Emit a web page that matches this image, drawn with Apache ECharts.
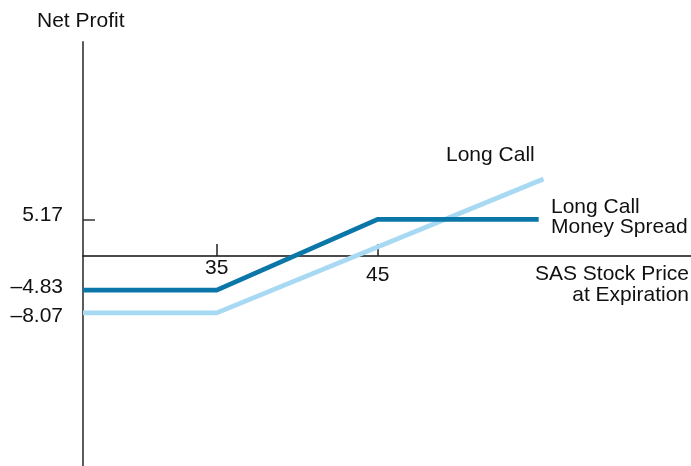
<!DOCTYPE html>
<html><head><meta charset="utf-8">
<script src="https://cdn.jsdelivr.net/npm/echarts@6/dist/echarts.min.js"></script>
<style>html,body{margin:0;padding:0;background:#fff}#c{width:691px;height:466px}</style>
</head><body><div id="c"></div>
<script>
// Data
const spreadPrices = [26.7, 35, 45, 55];
const spreadProfit = [-4.83, -4.83, 5.17, 5.17];
const callPrices = [26.7, 35, 55.3];
const callProfit = [-8.07, -8.07, 10.9];
const xTickValues = [35, 45];
const yTickValues = [5.17];
const yLabelValues = [5.17, -4.83, -8.07];

const FONT = '"Liberation Sans", Arial, Helvetica, sans-serif';
const FS = 21;
const chart = echarts.init(document.getElementById('c'), null, {renderer: 'canvas'});

function pairs(xs, ys) { return xs.map((x, i) => [x, ys[i]]); }

const yRich = {
  a: {fontSize: FS, fontFamily: FONT, color: '#111', padding: [0, 0, 8, 0]},
  b: {fontSize: FS, fontFamily: FONT, color: '#111', padding: [0, 0, 6, 0]},
  c: {fontSize: FS, fontFamily: FONT, color: '#111', padding: [6, 0, 0, 0]}
};

chart.setOption({
  animation: false,
  backgroundColor: '#fff',
  grid: {left: 83, right: 0, top: 42, bottom: 0, containLabel: false, outerBoundsMode: 'none'},
  xAxis: {
    type: 'value', min: 26.7, max: 64.46, interval: 1,
    splitLine: {show: false},
    axisLine: {onZero: true, lineStyle: {color: '#111', width: 1.5}},
    axisTick: {show: true, inside: true, length: 12, customValues: xTickValues, lineStyle: {color: '#222', width: 1.5}},
    axisLabel: {show: false}
  },
  yAxis: {
    type: 'value', min: -29.75, max: 30.3,
    splitLine: {show: false},
    axisLine: {show: true, onZero: false, lineStyle: {color: '#4a4a4a', width: 1.8}},
    axisTick: {show: true, inside: true, length: 12, customValues: yTickValues, lineStyle: {color: '#333', width: 1.5}},
    axisLabel: {
      customValues: yLabelValues, margin: 20,
      formatter: v => {
        const s = (v < 0 ? '\u2013' : '') + Math.abs(v).toFixed(2);
        const k = v > 0 ? 'a' : (v > -6 ? 'b' : 'c');
        return '{' + k + '|' + s + '}';
      },
      rich: yRich
    }
  },
  series: [
    {
      name: 'Long Call', type: 'line', data: pairs(callPrices, callProfit),
      showSymbol: false, symbol: 'none', z: 2,
      lineStyle: {color: '#a8d9f2', width: 4.7, cap: 'butt', join: 'miter'}
    },
    {
      name: 'Long Call Money Spread', type: 'line', data: pairs(spreadPrices, spreadProfit),
      showSymbol: false, symbol: 'none', z: 3,
      lineStyle: {color: '#0b77a8', width: 4.7, cap: 'butt', join: 'miter'}
    },
    {
      // x tick labels placed at their axis values, below the axis
      type: 'scatter', symbol: 'circle', symbolSize: 0, silent: true, z: 4,
      itemStyle: {color: '#111', opacity: 1},
      data: [
        {value: [xTickValues[0], 0], label: {offset: [0, 12]}},
        {value: [xTickValues[1], 0], label: {offset: [0, 19]}}
      ],
      label: {
        show: true, position: 'inside', formatter: p => String(p.value[0]),
        fontSize: FS, fontFamily: FONT, color: '#111', opacity: 1,
        textBorderWidth: 0, textBorderColor: 'transparent'
      }
    }
  ],
  graphic: [
    {type: 'text', x: 37, y: 11, style: {text: 'Net Profit', font: FS + 'px ' + FONT, fill: '#111'}},
    {type: 'text', x: 446, y: 145, style: {text: 'Long Call', font: FS + 'px ' + FONT, fill: '#111'}},
    {type: 'text', x: 551, y: 197, style: {text: 'Long Call\nMoney Spread', font: FS + 'px ' + FONT, fill: '#111', lineHeight: 20}},
    {type: 'text', x: 689, y: 264, style: {text: 'SAS Stock Price\nat Expiration', font: FS + 'px ' + FONT, fill: '#111', lineHeight: 21, align: 'right'}}
  ]
});
</script></body></html>
